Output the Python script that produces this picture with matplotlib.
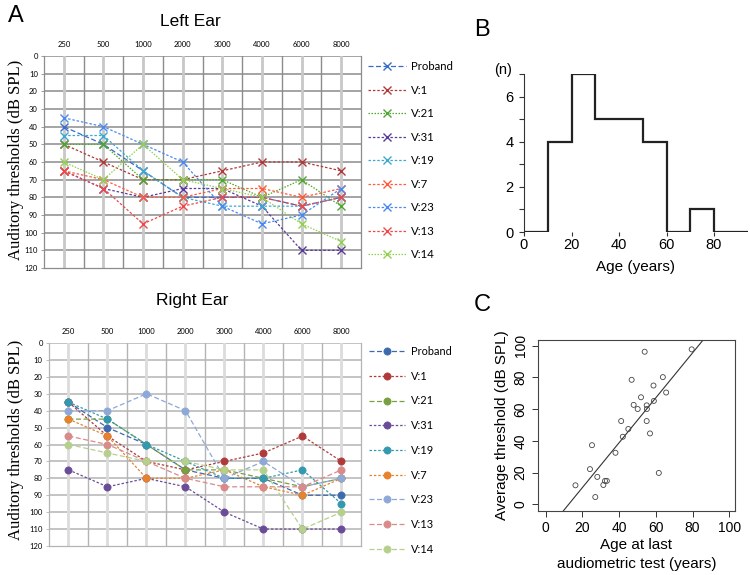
import numpy as np
import matplotlib
matplotlib.use("Agg")
import matplotlib.pyplot as plt

# ---------------- data ----------------
freqs = ["250", "500", "1000", "2000", "3000", "4000", "6000", "8000"]
subjects = ["Proband", "V:1", "V:21", "V:31", "V:19", "V:7", "V:23", "V:13", "V:14"]

left_proband = [40, 50, 65, 80, 80, 80, 85, 80]
left_v1 = [50, 60, 70, 70, 65, 60, 60, 65]
left_v21 = [50, 50, 70, 70, 70, 80, 70, 85]
left_v31 = [65, 75, 80, 75, 75, 85, 110, 110]
left_v19 = [45, 45, 65, 80, 85, 85, 85, 80]
left_v7 = [65, 70, 80, 80, 75, 75, 80, 75]
left_v23 = [35, 40, 50, 60, 85, 95, 90, 75]
left_v13 = [65, 75, 95, 85, 80, 80, 85, 80]
left_v14 = [60, 70, 50, 70, 75, 80, 95, 105]

right_proband = [35, 50, 60, 75, 80, 80, 90, 90]
right_v1 = [35, 55, 70, 75, 70, 65, 55, 70]
right_v21 = [45, 45, 60, 75, 75, 80, 85, 80]
right_v31 = [75, 85, 80, 85, 100, 110, 110, 110]
right_v19 = [35, 45, 60, 70, 80, 80, 75, 95]
right_v7 = [45, 55, 80, 80, 75, 85, 90, 80]
right_v23 = [40, 40, 30, 40, 80, 70, 85, 80]
right_v13 = [55, 60, 70, 80, 85, 85, 85, 75]
right_v14 = [60, 65, 70, 70, 75, 75, 110, 100]

hist_edges = [0, 10, 20, 30, 40, 50, 60, 70, 80, 90, 100]
hist_counts = [0, 4, 7, 5, 5, 4, 0, 1, 0, 0]

age_last_test = [16.2, 24.1, 25.2, 28.1, 27.0, 31.4, 32.3, 33.3, 38.0, 41.1, 42.0, 45.0,
                 46.8, 47.9, 50.1, 51.9, 53.9, 55.0, 55.1, 55.0, 56.8, 58.7, 58.9, 61.6,
                 63.8, 65.6, 79.5]
avg_threshold = [12.0, 22.2, 37.3, 17.3, 4.6, 12.2, 14.8, 14.8, 32.5, 52.5, 42.6, 47.5,
                 78.5, 62.7, 60.1, 67.5, 96.2, 62.4, 60.1, 52.5, 44.7, 74.9, 65.2, 19.8,
                 80.2, 70.5, 97.7]
fit_intercept = -17.7
fit_slope = 1.415

left_data = [left_proband, left_v1, left_v21, left_v31, left_v19, left_v7, left_v23, left_v13, left_v14]
right_data = [right_proband, right_v1, right_v21, right_v31, right_v19, right_v7, right_v23, right_v13, right_v14]

left_colors = ["#3A6BC8", "#B03A3A", "#4EA72E", "#5A3A9A", "#3BA8D0", "#FF5A3A", "#4A8AF0", "#F04848", "#92D050"]
right_colors = ["#3D6AAE", "#B03A3A", "#78A040", "#6A4C98", "#3399B0", "#E8822E", "#8EA8D8", "#D98A8A", "#B5D08C"]
left_dashes = [(4, 2), (2, 1.5), (1.2, 1.2), (2, 1.5), (2, 1.5), (2, 1.5), (2, 1.5), (2, 1.5), (1.2, 1.2)]
right_dashes = [(4, 2), (2, 1.5), (4, 2), (2, 1.5), (2, 1.5), (2, 1.5), (4, 2), (4, 2), (4, 2)]

W, H = 750, 575
fig = plt.figure(figsize=(7.5, 5.75), dpi=100)

def fx(px):
    return px / W

def fy(py):
    return 1 - py / H

def audiogram(rect, data, colors, dashes, marker, ms, mew, hgrid, vgrid_c, vgrid_b, spine_col,
              leg_anchor, leg_space, leg_fs):
    ax = fig.add_axes(rect)
    x = np.arange(len(freqs))
    ax.set_xlim(-0.5, len(freqs) - 0.5)
    ax.set_ylim(120, 0)
    for yv in range(0, 120, 10):
        ax.axhline(yv, color=hgrid, lw=1.1, zorder=0)
    for xv in x:
        ax.axvline(xv, color=vgrid_c, lw=2.0, zorder=0)
    for xv in x[:-1] + 0.5:
        ax.axvline(xv, color=vgrid_b, lw=1.0, zorder=0)
    handles = []
    for vals, c, d, name in zip(data, colors, dashes, subjects):
        ln, = ax.plot(x, vals, color=c, lw=0.9, dashes=d, marker=marker, ms=ms,
                      mew=mew, mfc=c, mec=c, zorder=3, label=name)
        handles.append(ln)
    ax.set_yticks(range(0, 121, 10))
    ax.set_xticks(x)
    ax.set_xticklabels(freqs)
    ax.xaxis.tick_top()
    ax.tick_params(axis="both", labelsize=5.5, length=2.5, width=0.6, color=spine_col, pad=2)
    ax.tick_params(axis="x", length=0, pad=6)
    for lab in ax.get_xticklabels() + ax.get_yticklabels():
        lab.set_family("Lato")
    for s in ax.spines.values():
        s.set_color(spine_col)
        s.set_linewidth(0.9)
    ax.spines["top"].set_visible(False)
    fig.legend(handles=handles, loc="upper left", bbox_to_anchor=leg_anchor,
               frameon=False, handlelength=3.3, handletextpad=0.5, borderpad=0,
               borderaxespad=0, labelspacing=leg_space,
               prop={"family": "Lato", "size": leg_fs})
    return ax

ax_l = audiogram([fx(44), fy(268), fx(317), (268 - 56) / H], left_data, left_colors, left_dashes,
                 "x", 5.5, 1.0, "#8C8C8C", "#C8C8C8", "#8C8C8C", "#8C8C8C",
                 (fx(368), fy(61)), 1.1, 8.2)
ax_r = audiogram([fx(49), fy(546), fx(312), (546 - 343) / H], right_data, right_colors, right_dashes,
                 "o", 5.2, 0.5, "#B4B4B4", "#DCDCDC", "#B4B4B4", "#B4B4B4",
                 (fx(369), fy(346)), 1.25, 7.9)

fig.text(fx(190), fy(22), "Left Ear", ha="center", va="center", fontsize=12.5, family="Liberation Sans")
fig.text(fx(192), fy(300), "Right Ear", ha="center", va="center", fontsize=12.5, family="Liberation Sans")
fig.text(fx(16), fy(160), "Auditory thresholds (dB SPL)", rotation=90, ha="center", va="center",
         fontsize=12, family="Liberation Serif")
fig.text(fx(16), fy(440), "Auditory thresholds (dB SPL)", rotation=90, ha="center", va="center",
         fontsize=12, family="Liberation Serif")
fig.text(fx(8), fy(16), "A", ha="left", va="center", fontsize=17, family="Liberation Sans")

# ---------------- panel B ----------------
axb = fig.add_axes([fx(524), fy(232), (748 - 524) / W, (232 - 74) / H])
axb.stairs(hist_counts, hist_edges, baseline=None, color="#222222", lw=1.6, clip_on=True)
axb.set_xlim(0, 94.3)
axb.set_ylim(0, 7)
axb.spines["top"].set_visible(False)
axb.spines["right"].set_visible(False)
axb.spines["bottom"].set_visible(False)
axb.spines["left"].set_color("#333333")
axb.spines["left"].set_linewidth(0.8)
axb.set_yticks([0, 2, 4, 6])
axb.set_yticks([1, 3, 5, 7], minor=True)
axb.set_xticks([0, 20, 40, 60, 80])
axb.tick_params(axis="y", which="both", length=3.5, width=0.8, labelsize=10.5, pad=4, color="#333333")
axb.tick_params(axis="x", length=3, width=0.8, labelsize=10.5, pad=1, color="#333333")
for lab in axb.get_xticklabels() + axb.get_yticklabels():
    lab.set_family("Liberation Sans")
axb.set_xlabel("Age (years)", fontsize=11, family="Liberation Sans", labelpad=6)
fig.text(fx(503), fy(70), "(n)", ha="center", va="center", fontsize=10.5, family="Liberation Sans")
fig.text(fx(474), fy(30), "B", ha="left", va="center", fontsize=17, family="Liberation Sans")

# ---------------- panel C ----------------
axc = fig.add_axes([fx(538), fy(511), (735 - 538) / W, (511 - 340) / H])
axc.scatter(age_last_test, avg_threshold, s=13, facecolors="none", edgecolors="#444444", linewidths=0.6, zorder=3)
axc.axline((0, fit_intercept), slope=fit_slope, color="#333333", lw=0.8)
axc.set_xlim(-4.2, 103.1)
axc.set_ylim(-4.2, 103.6)
axc.set_xticks([0, 20, 40, 60, 80, 100])
axc.set_yticks([0, 20, 40, 60, 80, 100])
axc.tick_params(axis="both", length=4, width=0.7, labelsize=10, color="#333333")
for lab in axc.get_xticklabels():
    lab.set_family("Liberation Sans")
for lab in axc.get_yticklabels():
    lab.set_family("Liberation Sans")
    lab.set_rotation(90)
    lab.set_va("center")
for s in axc.spines.values():
    s.set_color("#444444")
    s.set_linewidth(0.8)
axc.set_xlabel("Age at last\naudiometric test (years)", fontsize=11, family="Liberation Sans",
               linespacing=1.45, labelpad=2)
axc.set_ylabel("Average threshold (dB SPL)", fontsize=11, family="Liberation Sans", labelpad=3)
fig.text(fx(474), fy(305), "C", ha="left", va="center", fontsize=17, family="Liberation Sans")

fig.savefig("out.png", dpi=100)
